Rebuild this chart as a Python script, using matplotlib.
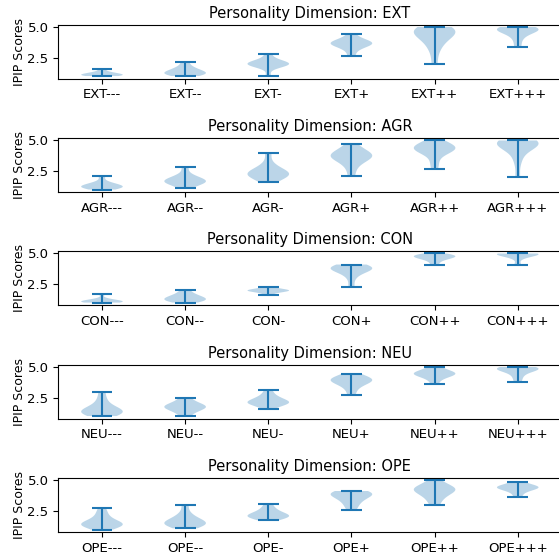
import matplotlib
matplotlib.use("Agg")
import matplotlib.pyplot as plt

# personality dimensions, one panel each
dimensions = ["EXT", "AGR", "CON", "NEU", "OPE"]
levels = ["---", "--", "-", "+", "++", "+++"]

# IPIP scores per group, estimated from the reference violins
ext_scores = [
    [1.0, 1.0, 1.05, 1.1, 1.1, 1.15, 1.2, 1.25, 1.35, 1.6],
    [1.0, 1.1, 1.15, 1.2, 1.25, 1.3, 1.4, 1.5, 1.6, 1.8, 2.15],
    [1.0, 1.7, 1.85, 1.9, 1.95, 2.0, 2.0, 2.05, 2.1, 2.2, 2.4, 2.8],
    [2.6, 3.1, 3.4, 3.55, 3.6, 3.65, 3.7, 3.75, 3.85, 4.0, 4.4],
    [2.0, 3.0, 3.5, 3.9, 4.1, 4.3, 4.5, 4.6, 4.7, 4.8, 4.85, 4.9, 5.0],
    [3.4, 4.0, 4.4, 4.6, 4.75, 4.8, 4.85, 4.9, 4.9, 5.0],
]
agr_scores = [
    [1.0, 1.1, 1.15, 1.2, 1.25, 1.3, 1.35, 1.45, 1.6, 2.1],
    [1.1, 1.4, 1.5, 1.6, 1.65, 1.7, 1.75, 1.85, 2.0, 2.2, 2.8],
    [1.6, 1.9, 2.1, 2.2, 2.25, 2.3, 2.35, 2.5, 2.7, 3.1, 4.0],
    [2.1, 2.8, 3.2, 3.5, 3.6, 3.7, 3.75, 3.8, 3.9, 4.1, 4.3, 4.7],
    [2.7, 3.3, 3.9, 4.1, 4.2, 4.3, 4.4, 4.4, 4.5, 4.6, 4.8, 5.0],
    [2.0, 3.2, 3.8, 4.3, 4.6, 4.7, 4.75, 4.8, 4.8, 4.85, 4.9, 4.9, 5.0],
]
con_scores = [
    [1.0, 1.0, 1.05, 1.05, 1.1, 1.1, 1.15, 1.2, 1.3, 1.7],
    [1.0, 1.1, 1.15, 1.2, 1.3, 1.35, 1.4, 1.5, 1.6, 1.75, 2.0],
    [1.6, 1.85, 1.9, 1.95, 2.0, 2.0, 2.05, 2.1, 2.3],
    [2.3, 3.0, 3.4, 3.6, 3.7, 3.75, 3.8, 3.85, 3.9, 4.0, 4.1],
    [4.1, 4.4, 4.55, 4.65, 4.7, 4.75, 4.8, 4.85, 4.9, 5.0],
    [4.1, 4.6, 4.8, 4.9, 4.95, 4.95, 5.0, 5.0, 5.0],
]
neu_scores = [
    [1.0, 1.1, 1.2, 1.3, 1.35, 1.4, 1.45, 1.55, 1.7, 2.0, 2.4, 3.0],
    [1.0, 1.3, 1.5, 1.6, 1.7, 1.75, 1.8, 1.9, 2.0, 2.2, 2.5],
    [1.6, 1.9, 2.0, 2.05, 2.1, 2.15, 2.2, 2.35, 2.5, 2.7, 3.1],
    [2.7, 3.2, 3.5, 3.7, 3.8, 3.9, 3.95, 4.0, 4.1, 4.2, 4.45],
    [3.6, 4.0, 4.2, 4.3, 4.4, 4.45, 4.5, 4.55, 4.6, 4.8, 5.0],
    [3.8, 4.2, 4.5, 4.7, 4.8, 4.85, 4.9, 4.9, 4.95, 5.0],
]
ope_scores = [
    [1.0, 1.2, 1.3, 1.35, 1.4, 1.45, 1.5, 1.6, 1.75, 2.0, 2.3, 2.7],
    [1.1, 1.3, 1.4, 1.45, 1.5, 1.55, 1.65, 1.8, 2.0, 2.3, 2.95],
    [1.75, 1.9, 2.0, 2.05, 2.1, 2.15, 2.2, 2.35, 2.5, 2.7, 3.05],
    [2.6, 3.0, 3.3, 3.5, 3.7, 3.8, 3.9, 3.95, 4.0, 4.1],
    [2.95, 3.4, 3.7, 3.9, 4.1, 4.2, 4.25, 4.3, 4.4, 4.6, 4.95],
    [3.65, 4.0, 4.2, 4.3, 4.35, 4.4, 4.45, 4.5, 4.6, 4.85],
]
all_scores = [ext_scores, agr_scores, con_scores, neu_scores, ope_scores]

fig = plt.figure(figsize=(5.59, 5.56), dpi=100)

bottoms = [0.8588, 0.6547, 0.4514, 0.2473, 0.0432]

for dim, scores, bot in zip(dimensions, all_scores, bottoms):
    ax = fig.add_axes([0.1043, bot, 0.90, 0.0971])
    positions = list(range(1, len(levels) + 1))
    ax.violinplot(scores, positions=positions)
    ax.set_xticks(positions)
    ax.set_xticklabels([dim + lv for lv in levels], fontsize=9.5)
    ax.set_yticks([2.5, 5.0])
    ax.tick_params(axis="y", labelsize=9.5)
    ax.set_ylabel("IPIP Scores", fontsize=9, labelpad=1)
    ax.set_title(f"Personality Dimension: {dim}", fontsize=10.5, pad=5)

fig.savefig("out.png", dpi=100)
